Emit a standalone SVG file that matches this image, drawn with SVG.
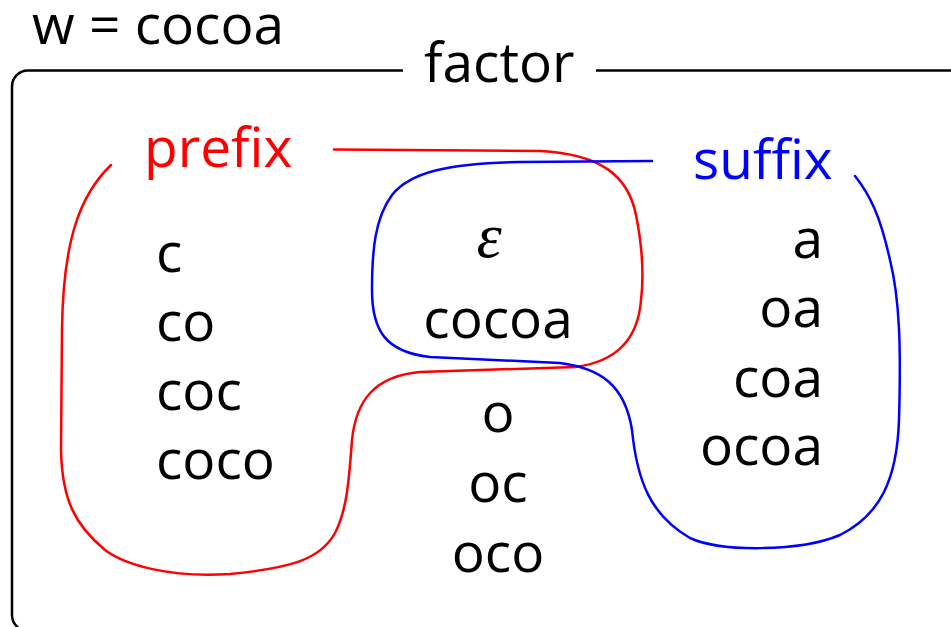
<svg xmlns="http://www.w3.org/2000/svg" width="951" height="627" viewBox="0 0 951 627">
  <style>
    text { font-family: "Open Sans", "Noto Sans", "Liberation Sans", sans-serif; font-size: 55px; fill: #000; }
    .red { fill: #ff0000; }
    .blue { fill: #0000ff; }
    .mid { text-anchor: middle; }
    .end { text-anchor: end; }
    .eps { font-family: "Liberation Serif", "DejaVu Serif", serif; font-style: italic; font-size: 64px; }
    .frame { fill: none; stroke: #000; stroke-width: 2.5; }
    .set { fill: none; stroke-width: 2.5; stroke-linecap: round; }
  </style>

  <!-- outer frame: "factor" set, open at the label -->
  <g id="factor">
    <path class="frame" d="M 403 70.5 H 28 A 16 16 0 0 0 12 86.5 V 615 A 16 16 0 0 0 28 631 H 960"/>
    <path class="frame" d="M 596 70.5 H 951"/>
    <text x="424" y="82">factor</text>
  </g>

  <text id="word" x="32" y="44">w = cocoa</text>

  <!-- set outlines -->
  <g id="sets">
    <path id="prefix-outline" class="set" stroke="#ff0000"
      d="M 334 149.5 L 540 151 C 600 154 628 175 636 215 C 642 245 644 275 641 300 C 638 340 615 362 575 367 L 420 372 C 375 376 356 400 352 440 C 349 480 347 510 335 533 C 320 560 290 568 230 574 C 170 578 125 565 105 550 C 75 525 62 500 61 450 L 62 330 C 63 240 80 195 111 165"/>
    <path id="suffix-outline" class="set" stroke="#0000ff"
      d="M 652 161 L 520 162 C 450 163 410 172 392 195 C 375 218 372 250 372 290 C 372 330 385 352 430 357 L 560 363 C 600 368 625 385 632 430 C 637 480 650 515 690 538 C 720 552 800 552 840 535 C 880 515 897 480 899 420 C 901 350 900 300 890 260 C 880 215 870 195 855 176"/>
  </g>

  <g id="prefix">
    <text class="red" x="144" y="167">prefix</text>
    <text x="156" y="272">c</text>
    <text x="156" y="341">co</text>
    <text x="156" y="410">coc</text>
    <text x="156" y="479">coco</text>
  </g>

  <g id="both">
    <text class="eps mid" x="489" y="257">ε</text>
    <text class="mid" x="498" y="338">cocoa</text>
  </g>

  <g id="factor-only">
    <text class="mid" x="498" y="432">o</text>
    <text class="mid" x="498" y="502">oc</text>
    <text class="mid" x="498" y="572">oco</text>
  </g>

  <g id="suffix">
    <text class="blue" x="693" y="179">suffix</text>
    <text class="end" x="823" y="258">a</text>
    <text class="end" x="823" y="327">oa</text>
    <text class="end" x="823" y="397">coa</text>
    <text class="end" x="823" y="465">ocoa</text>
  </g>
</svg>
